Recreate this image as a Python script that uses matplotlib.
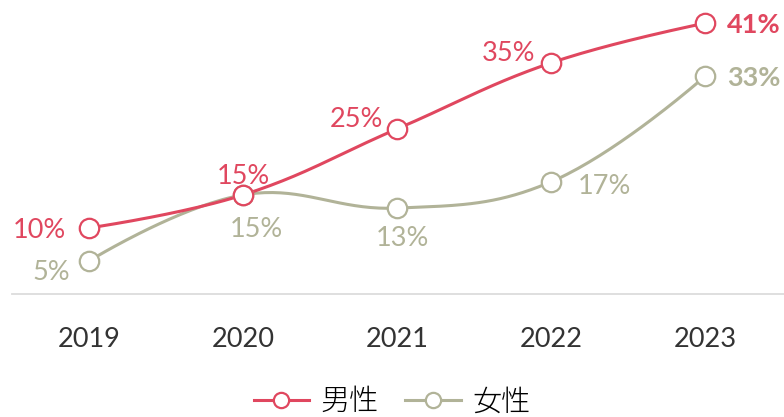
import numpy as np
import matplotlib
matplotlib.use("Agg")
import matplotlib.pyplot as plt
from matplotlib.lines import Line2D

years = ["2019", "2020", "2021", "2022", "2023"]
male = [10, 15, 25, 35, 41]
female = [5, 15, 13, 17, 33]
series_names = ["男性", "女性"]

RED = "#e0475f"
GREY = "#b1b398"

plt.rcParams['font.family'] = ['Lato', 'Noto Sans CJK JP', 'DejaVu Sans']

def smooth_curve(xs, ys, smooth=0.4, n=40):
    pts = np.column_stack([xs, ys]).astype(float)
    m = len(pts)
    cps = []
    for i in range(m):
        if i == 0 or i == m - 1:
            cps.append((pts[i], pts[i]))
            continue
        prev, cur, nxt = pts[i - 1], pts[i], pts[i + 1]
        v = (nxt - prev) * smooth
        d0 = np.linalg.norm(cur - prev)
        d1 = np.linalg.norm(nxt - cur)
        s = d0 + d1
        cps.append((cur - v * d0 / s, cur + v * d1 / s))
    out = []
    t = np.linspace(0, 1, n)[:, None]
    for i in range(m - 1):
        p0 = pts[i]; p3 = pts[i + 1]
        p1 = cps[i][1]; p2 = cps[i + 1][0]
        seg = ((1 - t) ** 3) * p0 + 3 * ((1 - t) ** 2) * t * p1 + 3 * (1 - t) * t ** 2 * p2 + t ** 3 * p3
        out.append(seg if i == 0 else seg[1:])
    out = np.vstack(out)
    return out[:, 0], out[:, 1]

fig = plt.figure(figsize=(7.84, 4.17), dpi=100)
ax = fig.add_axes([12 / 784, (417 - 294) / 417, 1 - 12 / 784, 294 / 417])
ax.set_facecolor("none")

x = np.arange(len(years))
px_per_x = 154.0
px_per_y = 6.61

for vals, col in [(female, GREY), (male, RED)]:
    sx, sy = smooth_curve(x * px_per_x, np.array(vals) * px_per_y)
    ax.plot(sx / px_per_x, sy / px_per_y, color=col, lw=2.2, zorder=2, solid_capstyle='round')
    ax.plot(x, vals, 'o', ms=14, mfc='white', mec=col, mew=1.6, zorder=3)

ax.set_xlim(-0.5, 4.51)
ax.set_ylim(0, 44.5)

fs = 19.5
PX = 0.72
male_offsets = [(-23, 0, 'right'), (0, 21, 'center'), (-14, 12, 'right'),
                (-16, 12, 'right'), (22, 0, 'left')]
for i, (v, (dx, dy, ha)) in enumerate(zip(male, male_offsets)):
    ax.annotate(f"{v}%", (x[i], v), xytext=(dx * PX, dy * PX), textcoords='offset points',
                ha=ha, va='center_baseline', color=RED, fontsize=fs,
                fontweight='bold' if i == len(male) - 1 else 'normal', zorder=4)

female_offsets = [(-19, -9, 'right'), (13, -32, 'center'), (5, -28, 'center'),
                  (26, -2, 'left'), (22, 0, 'left')]
for i, (v, (dx, dy, ha)) in enumerate(zip(female, female_offsets)):
    ax.annotate(f"{v}%", (x[i], v), xytext=(dx * PX, dy * PX), textcoords='offset points',
                ha=ha, va='center_baseline', color=GREY, fontsize=fs,
                fontweight='bold' if i == len(female) - 1 else 'normal', zorder=4)

for s in ["top", "right", "left"]:
    ax.spines[s].set_visible(False)
ax.spines["bottom"].set_color("#dcdcdc")
ax.spines["bottom"].set_linewidth(1.3)
ax.set_yticks([])
ax.set_xticks(x)
ax.set_xticklabels(years, fontsize=19.5, color="#333333")
ax.tick_params(axis='x', length=0, pad=23.5)

handles = [Line2D([0], [0], color=RED, lw=2.2, marker='o', ms=11, mfc='white', mec=RED, mew=1.6),
           Line2D([0], [0], color=GREY, lw=2.2, marker='o', ms=11, mfc='white', mec=GREY, mew=1.6)]
fig.legend(handles, series_names, loc='center', bbox_to_anchor=(392 / 784, 15 / 417), ncol=2,
           frameon=False, handlelength=1.9, handletextpad=0.4, columnspacing=0.9,
           prop={'family': ['Noto Sans CJK JP', 'DejaVu Sans'], 'size': 21, 'weight': 'light'},
           borderpad=0.2)

fig.savefig("out.png", dpi=100)
